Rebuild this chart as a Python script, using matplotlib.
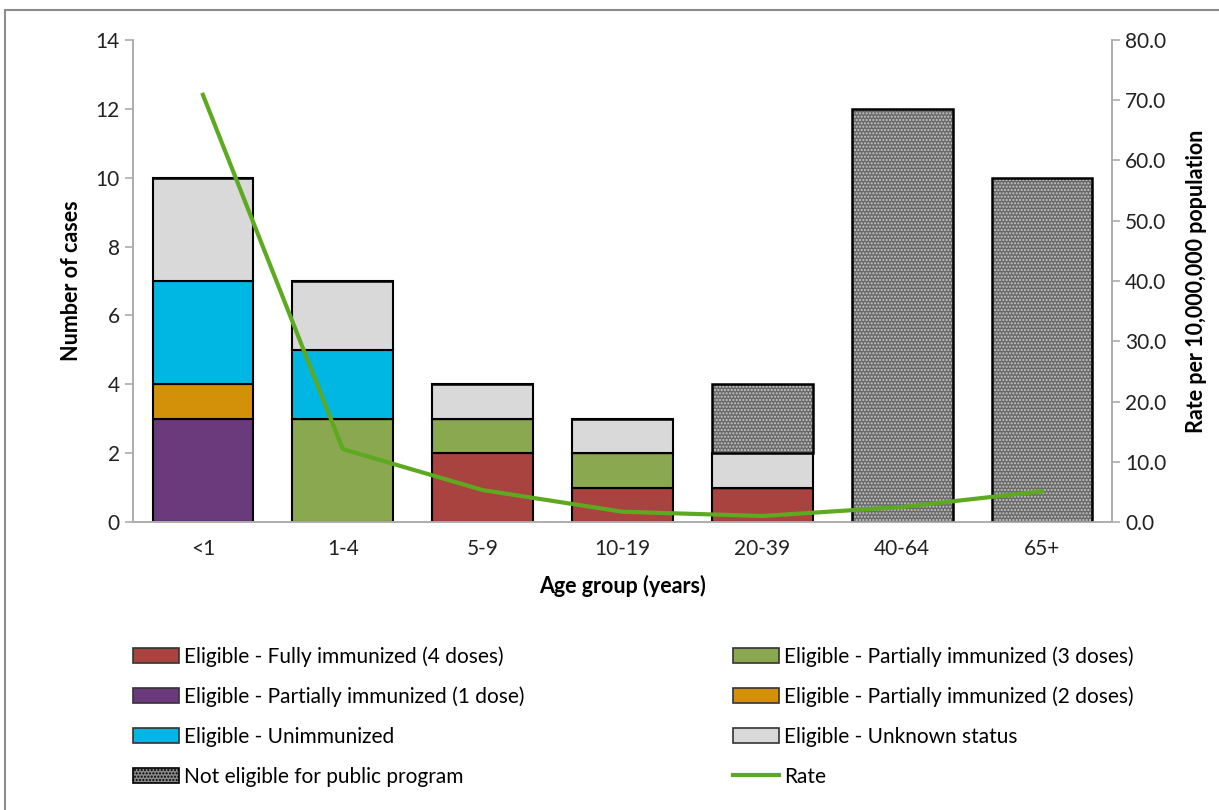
import matplotlib.pyplot as plt
from matplotlib.patches import Patch, Rectangle
from matplotlib.lines import Line2D
import numpy as np

plt.rcParams['font.family'] = ['Lato', 'DejaVu Sans']

ages = ['<1', '1-4', '5-9', '10-19', '20-39', '40-64', '65+']

fully_4 = [0, 0, 2, 1, 1, 0, 0]
partial_3 = [0, 3, 1, 1, 0, 0, 0]
partial_1 = [3, 0, 0, 0, 0, 0, 0]
partial_2 = [1, 0, 0, 0, 0, 0, 0]
unimmunized = [3, 2, 0, 0, 0, 0, 0]
unknown = [3, 2, 1, 1, 1, 0, 0]
not_eligible = [0, 0, 0, 0, 2, 12, 10]

rate = [70.9, 12.1, 5.3, 1.7, 1.0, 2.5, 5.1]

series = [
    ('Eligible - Fully immunized (4 doses)', fully_4, '#A8433F'),
    ('Eligible - Partially immunized (3 doses)', partial_3, '#8AA84F'),
    ('Eligible - Partially immunized (1 dose)', partial_1, '#6B3A7D'),
    ('Eligible - Partially immunized (2 doses)', partial_2, '#D39109'),
    ('Eligible - Unimmunized', unimmunized, '#00B6E2'),
    ('Eligible - Unknown status', unknown, '#D9D9D9'),
]

fig = plt.figure(figsize=(12.19, 8.10), dpi=100)
ax = fig.add_axes([133 / 1219, 1 - 522 / 810, (1112 - 133) / 1219, (522 - 40) / 810])
ax2 = ax.twinx()

x = np.arange(len(ages))
width = 0.72
bottom = np.zeros(len(ages))
handles = {}
for label, vals, color in series:
    vals = np.array(vals, dtype=float)
    ax.bar(x, vals, width, bottom=bottom, color=color, edgecolor='black', linewidth=1.5, zorder=2)
    handles[label] = Patch(facecolor=color, edgecolor='#333333', linewidth=1.2)
    bottom += vals

# not eligible: dotted grey fill, then a black outline on top
ne = np.array(not_eligible, dtype=float)
ax.bar(x, ne, width, bottom=bottom, color='#6a6a6a', edgecolor='#c8c8c8', hatch='.....',
       linewidth=0, zorder=2)
ax.bar(x, ne, width, bottom=bottom, fill=False, edgecolor='black', linewidth=1.8, zorder=3)
handles['Not eligible for public program'] = Patch(facecolor='#8a8a8a', edgecolor='black',
                                                   hatch='.....', linewidth=1.2)

ax2.plot(x, rate, color='#5DAA20', linewidth=3, zorder=4)
handles['Rate'] = Line2D([], [], color='#5DAA20', linewidth=3)

ax.set_xlim(-0.5, len(ages) - 0.5)
ax.set_ylim(0, 14)
ax.set_yticks(range(0, 15, 2))
ax2.set_ylim(0, 80)
ax2.set_yticks(np.arange(0, 81, 10))
ax2.set_yticklabels([f'{v:.1f}' for v in np.arange(0, 81, 10)])
ax.set_xticks(x)
ax.set_xticklabels(ages)

for a in (ax, ax2):
    a.spines['top'].set_visible(False)
    for s in ('left', 'right', 'bottom'):
        a.spines[s].set_color('#ADADAD')
        a.spines[s].set_linewidth(1.2)
    a.tick_params(axis='y', colors='#ADADAD', labelcolor='#222222', labelsize=15,
                  length=6, width=1.2)
ax.tick_params(axis='x', length=0, labelsize=15, labelcolor='#222222', pad=12)
ax.set_axisbelow(True)
ax2.set_zorder(ax.get_zorder() + 1)
ax2.patch.set_visible(False)

ax.set_ylabel('Number of cases', fontsize=15.5, fontweight='bold', labelpad=10)
ax2.set_ylabel('Rate per 10,000,000 population', fontsize=15.5, fontweight='bold', labelpad=14)
ax.set_xlabel('Age group (years)', fontsize=15.5, fontweight='bold', labelpad=12)

left_col = ['Eligible - Fully immunized (4 doses)', 'Eligible - Partially immunized (1 dose)',
            'Eligible - Unimmunized', 'Not eligible for public program']
right_col = ['Eligible - Partially immunized (3 doses)', 'Eligible - Partially immunized (2 doses)',
             'Eligible - Unknown status', 'Rate']
for cols, xpos in ((left_col, 133 / 1219), (right_col, 733 / 1219)):
    fig.legend([handles[k] for k in cols], cols, loc='upper left',
               bbox_to_anchor=(xpos, 1 - 646 / 810), frameon=False, fontsize=15,
               handlelength=2.2, handleheight=0.75, handletextpad=0.25, labelspacing=0.95,
               borderpad=0, borderaxespad=0)

fig.patches.append(Rectangle((5 / 1219, -0.01), 1.1, 1 - 10 / 810 + 0.01, transform=fig.transFigure,
                             fill=False, edgecolor='#8c8c8c', linewidth=1.5))

fig.savefig('out.png', dpi=100)
